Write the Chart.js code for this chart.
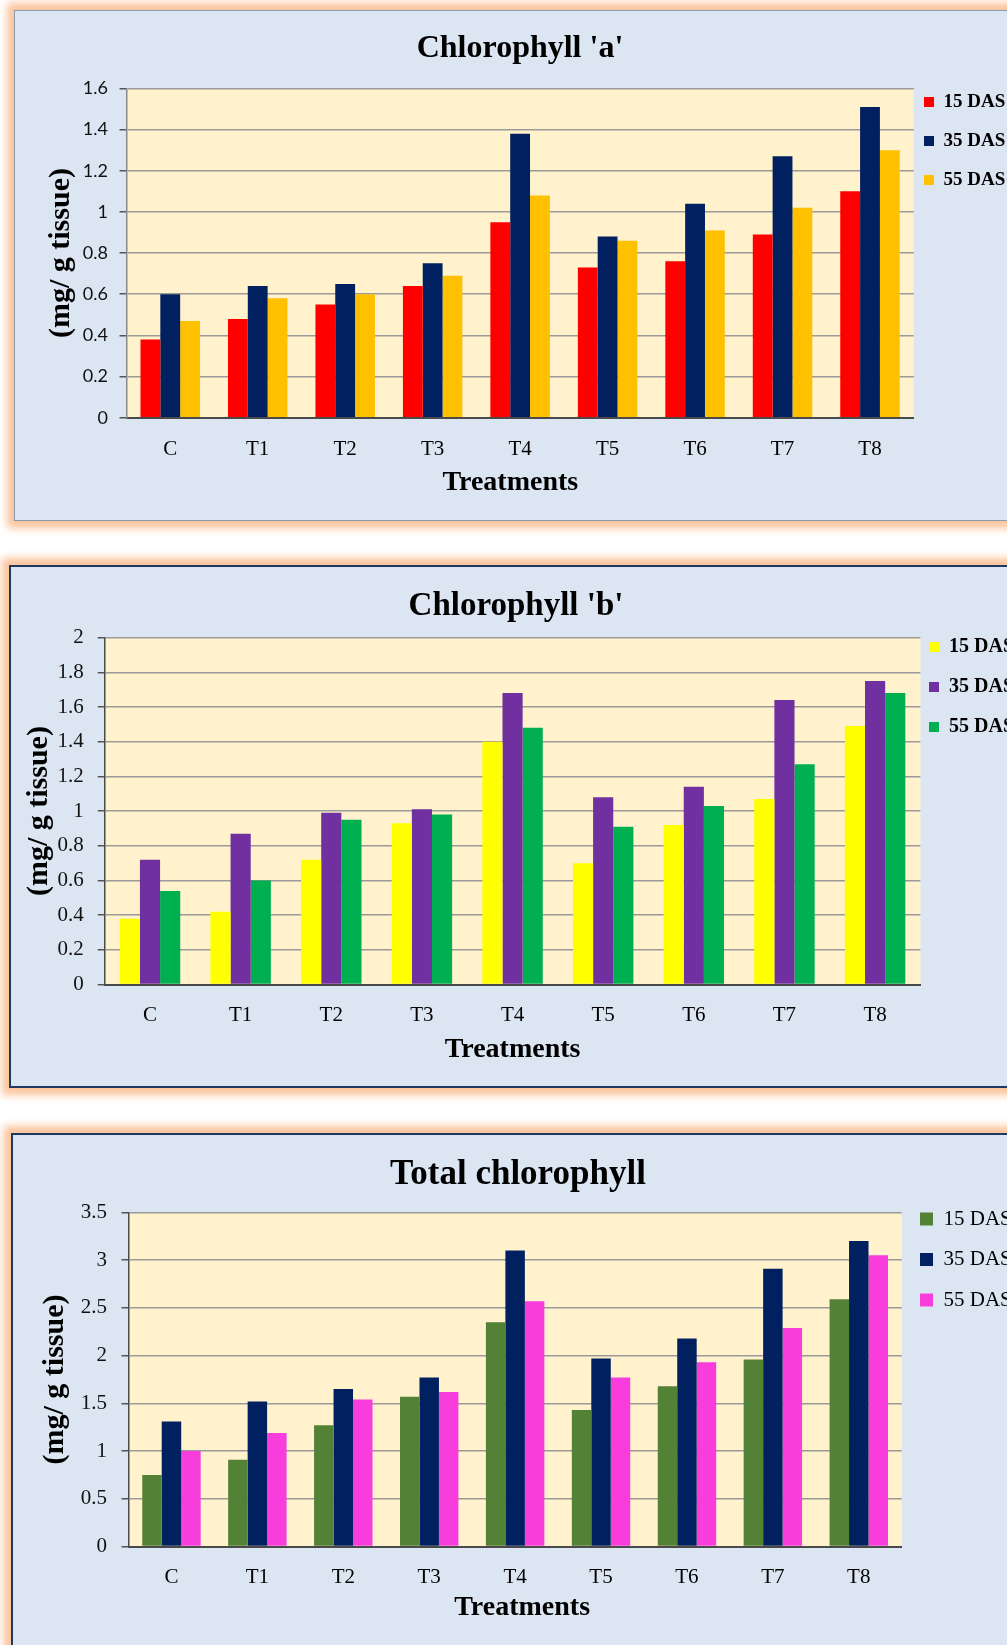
<!DOCTYPE html>
<html>
<head>
<meta charset="utf-8">
<script src="https://cdn.jsdelivr.net/npm/chart.js@4.4.0/dist/chart.umd.min.js"></script>
<style>
  html, body { margin: 0; padding: 0; background: #fff; overflow: hidden; width: 1007px; height: 1645px; }
  .panel { position: absolute; background: #dce6f2; box-shadow: 0 0 8px 7px #fcc39a; }
  #p1 { left: 14px; top: 10px; width: 1010px; height: 509px; border: 1px solid #8a9bb0; }
  #p2 { left: 9px; top: 565px; width: 1010px; height: 519px; border: 2px solid #1f3864; }
  #p3 { left: 11px; top: 1133px; width: 1010px; height: 520px; border: 2px solid #1f3864; }
</style>
</head>
<body>
<div class="panel" id="p1"><canvas id="chartA"></canvas></div>
<div class="panel" id="p2"><canvas id="chartB"></canvas></div>
<div class="panel" id="p3"><canvas id="chartT"></canvas></div>

<script>
// categories and series names
var categories = ['C', 'T1', 'T2', 'T3', 'T4', 'T5', 'T6', 'T7', 'T8'];
var seriesNames = ['15 DAS', '35 DAS', '55 DAS'];

// Chlorophyll 'a'
var chlA15 = [0.38, 0.48, 0.55, 0.64, 0.95, 0.73, 0.76, 0.89, 1.10];
var chlA35 = [0.60, 0.64, 0.65, 0.75, 1.38, 0.88, 1.04, 1.27, 1.51];
var chlA55 = [0.47, 0.58, 0.60, 0.69, 1.08, 0.86, 0.91, 1.02, 1.30];

// Chlorophyll 'b'
var chlB15 = [0.38, 0.42, 0.72, 0.93, 1.40, 0.70, 0.92, 1.07, 1.49];
var chlB35 = [0.72, 0.87, 0.99, 1.01, 1.68, 1.08, 1.14, 1.64, 1.75];
var chlB55 = [0.54, 0.60, 0.95, 0.98, 1.48, 0.91, 1.03, 1.27, 1.68];

// Total chlorophyll
var total15 = [0.75, 0.91, 1.27, 1.57, 2.35, 1.43, 1.68, 1.96, 2.59];
var total35 = [1.31, 1.52, 1.65, 1.77, 3.10, 1.97, 2.18, 2.91, 3.20];
var total55 = [1.00, 1.19, 1.54, 1.62, 2.57, 1.77, 1.93, 2.29, 3.05];

// y tick values
var ticksA = [0, 0.2, 0.4, 0.6, 0.8, 1, 1.2, 1.4, 1.6];
var ticksB = [0, 0.2, 0.4, 0.6, 0.8, 1, 1.2, 1.4, 1.6, 1.8, 2];
var ticksTotal = [0, 0.5, 1, 1.5, 2, 2.5, 3, 3.5];

Chart.defaults.font.family = "'Liberation Serif', 'Times New Roman', serif";
Chart.defaults.color = '#111';

// cream plot area behind the bars
var plotBg = {
    id: 'plotBg',
    beforeDraw: function(chart) {
        var a = chart.chartArea, ctx = chart.ctx;
        ctx.save();
        ctx.fillStyle = '#fff2cc';
        ctx.fillRect(a.left, a.top, a.right - a.left, a.bottom - a.top);
        ctx.restore();
    }
};

// put the legend where it sits in the original
var legendNudge = {
    id: 'legendNudge',
    afterLayout: function(chart, args, opts) {
        if (opts.left != null) chart.legend.left = opts.left;
        if (opts.top != null) chart.legend.top = opts.top;
    }
};

function buildChart(id, c) {
    var ctx = document.getElementById(id).getContext('2d');
    return new Chart(ctx, {
        type: 'bar',
        data: {
            labels: categories,
            datasets: c.series.map(function(s, i) {
                return {
                    label: seriesNames[i],
                    data: s,
                    backgroundColor: c.colors[i],
                    borderWidth: 0,
                    categoryPercentage: c.catPct,
                    barPercentage: 1
                };
            })
        },
        plugins: [plotBg, legendNudge],
        options: {
            responsive: true,
            maintainAspectRatio: false,
            animation: false,
            layout: { padding: 0 },
            plugins: {
                title: {
                    display: true,
                    text: c.title,
                    font: { size: c.titleSize, weight: 'bold' },
                    color: '#000',
                    padding: { top: c.titlePad[0], bottom: c.titlePad[1] }
                },
                legend: {
                    position: 'right',
                    align: 'start',
                    maxWidth: c.legendW,
                    labels: {
                        boxWidth: c.box,
                        boxHeight: c.box,
                        padding: c.legendPad,
                        color: '#000',
                        font: { size: c.legendSize, weight: c.legendWeight }
                    }
                },
                legendNudge: { left: c.legendPos[0], top: c.legendPos[1] },
                tooltip: { enabled: false }
            },
            scales: {
                x: {
                    afterFit: function(s) { s.height = c.xH; },
                    grid: { display: false, drawTicks: false },
                    border: { color: '#4a4a4a', width: 2 },
                    ticks: { padding: c.xTickPad, color: '#000', font: { size: 21 } },
                    title: {
                        display: true,
                        text: c.xTitle,
                        color: '#000',
                        font: { size: 28, weight: 'bold' },
                        padding: { top: 0, bottom: c.xTitlePad }
                    }
                },
                y: {
                    min: c.ticks[0],
                    max: c.ticks[c.ticks.length - 1],
                    afterFit: function(s) { s.width = c.yW; },
                    afterBuildTicks: function(s) {
                        s.ticks = c.ticks.map(function(v) { return { value: v }; });
                    },
                    grid: { color: '#9a9a9a', lineWidth: 1.5, tickLength: 7, tickColor: '#555' },
                    border: { color: c.yBorder, width: 1.5 },
                    ticks: {
                        padding: c.yTickPad,
                        color: '#111',
                        font: c.yTickFont,
                        callback: function(v) { return String(v); }
                    },
                    title: {
                        display: true,
                        text: '(mg/ g tissue)',
                        color: '#000',
                        font: { size: 30, weight: 'bold' },
                        padding: { top: c.yTitlePad, bottom: 0 }
                    }
                }
            }
        }
    });
}

buildChart('chartA', {
    title: "Chlorophyll 'a'",
    xTitle: 'Treatments\u2002\u2009',
    series: [chlA15, chlA35, chlA55],
    colors: ['#ff0000', '#002060', '#ffc000'],
    ticks: ticksA,
    catPct: 0.68,
    titleSize: 32, titlePad: [19, 20],
    yW: 111.5, yTickPad: 11.5, yTitlePad: 28, yBorder: '#8a8a8a',
    yTickFont: { family: "Lato, 'Liberation Sans', sans-serif", size: 18 },
    xH: 102.3, xTickPad: 18.7, xTitlePad: 20,
    legendW: 112.4, box: 10, legendPad: 20, legendSize: 19, legendWeight: 'bold',
    legendPos: [889, 61.5]
});

buildChart('chartB', {
    title: "Chlorophyll 'b'",
    xTitle: 'Treatments',
    series: [chlB15, chlB35, chlB55],
    colors: ['#ffff00', '#7030a0', '#00b050'],
    ticks: ticksB,
    catPct: 0.667,
    titleSize: 33, titlePad: [20, 11],
    yW: 93.7, yTickPad: 14, yTitlePad: 10, yBorder: '#4a4a4a',
    yTickFont: { size: 21 },
    xH: 101.4, xTickPad: 17.8, xTitlePad: 19,
    legendW: 100.6, box: 10, legendPad: 20, legendSize: 20, legendWeight: 'bold',
    legendPos: [898, 50]
});

buildChart('chartT', {
    title: 'Total chlorophyll',
    xTitle: '\u2002Treatments',
    series: [total15, total35, total55],
    colors: ['#538135', '#002060', '#f93cdc'],
    ticks: ticksTotal,
    catPct: 0.68,
    titleSize: 35, titlePad: [19, 16.4],
    yW: 115.5, yTickPad: 14.5, yTitlePad: 24, yBorder: '#4a4a4a',
    yTickFont: { size: 21 },
    xH: 108.4, xTickPad: 17.8, xTitlePad: 30,
    legendW: 123.2, box: 13, legendPad: 19.5, legendSize: 21, legendWeight: 'normal',
    legendPos: [887.5, 54]
});
</script>
</body>
</html>
